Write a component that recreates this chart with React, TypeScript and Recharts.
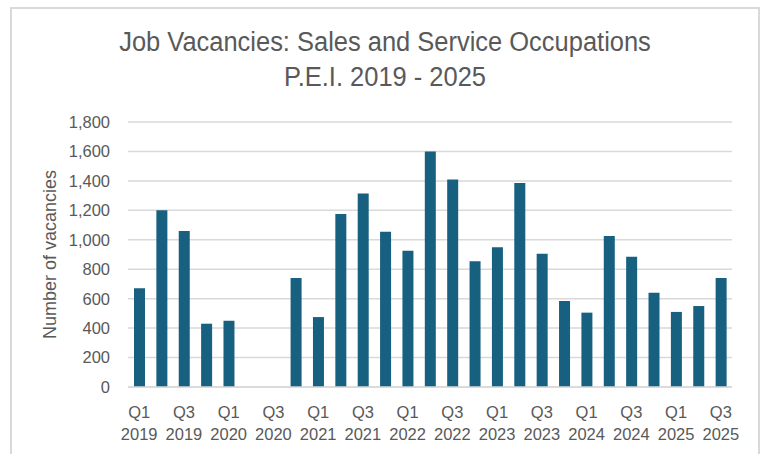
import React from 'react';
import { BarChart, Bar, XAxis, YAxis, CartesianGrid } from 'recharts';

const quarters = [
  'Q1 2019', 'Q2 2019', 'Q3 2019', 'Q4 2019',
  'Q1 2020', 'Q2 2020', 'Q3 2020', 'Q4 2020',
  'Q1 2021', 'Q2 2021', 'Q3 2021', 'Q4 2021',
  'Q1 2022', 'Q2 2022', 'Q3 2022', 'Q4 2022',
  'Q1 2023', 'Q2 2023', 'Q3 2023', 'Q4 2023',
  'Q1 2024', 'Q2 2024', 'Q3 2024', 'Q4 2024',
  'Q1 2025', 'Q2 2025', 'Q3 2025',
];

// Q2 and Q3 2020 were not collected
const vacancies: (number | null)[] = [
  670, 1200, 1060, 430,
  450, null, null, 740,
  475, 1175, 1315, 1055,
  925, 1600, 1410, 855,
  950, 1385, 905, 585,
  505, 1025, 885, 640,
  510, 550, 740,
];

const yTicks = [0, 200, 400, 600, 800, 1000, 1200, 1400, 1600, 1800];

const data = quarters.map((q, i) => ({ quarter: q, vacancies: vacancies[i] }));

const grey = '#595959';
const font = '"Liberation Sans", Arial, sans-serif';

function QuarterTick(props: any) {
  const { x, y, payload } = props;
  const [q, yr] = String(payload.value).split(' ');
  return (
    <text x={x} y={y} textAnchor="middle" fill={grey} fontSize={16.5} fontFamily={font}>
      <tspan x={x} dy={31}>{q}</tspan>
      <tspan x={x} dy={22}>{yr}</tspan>
    </text>
  );
}

export default function App() {
  return (
    <div
      style={{
        position: 'absolute',
        left: 10,
        top: 7,
        width: 746,
        height: 445,
        border: '2px solid #d9d9d9',
        borderBottom: 'none',
        background: '#fff',
      }}
    >
      <div
        style={{
          position: 'absolute',
          left: 0,
          top: 16,
          width: '100%',
          textAlign: 'center',
          fontFamily: font,
          fontSize: 27,
          lineHeight: '35px',
          color: grey,
          transform: 'scaleX(0.943)',
        }}
      >
        <div>Job Vacancies: Sales and Service Occupations</div>
        <div>P.E.I. 2019 - 2025</div>
      </div>
      <div style={{ position: 'absolute', left: 0, top: 0 }}>
        <BarChart
          width={746}
          height={445}
          data={data}
          margin={{ top: 113, right: 26, left: 0, bottom: 17 }}
        >
          <CartesianGrid vertical={false} stroke="#d9d9d9" strokeWidth={1.5} />
          <XAxis
            dataKey="quarter"
            interval={1}
            height={50}
            tickLine={false}
            tickSize={0}
            tickMargin={0}
            axisLine={{ stroke: '#d9d9d9', strokeWidth: 1.5 }}
            tick={<QuarterTick />}
          />
          <YAxis
            width={116}
            domain={[0, 1800]}
            ticks={yTicks}
            axisLine={false}
            tickLine={false}
            tickSize={0}
            tickMargin={18}
            tickFormatter={(v: number) => v.toLocaleString('en-US')}
            tick={{ fill: grey, fontSize: 16.5, fontFamily: font }}
            label={{
              value: 'Number of vacancies',
              angle: -90,
              position: 'insideLeft',
              offset: 38,
              style: { textAnchor: 'middle', fill: grey, fontSize: 18, fontFamily: font },
            }}
          />
          <Bar dataKey="vacancies" fill="#17607f" barSize={11} isAnimationActive={false} />
        </BarChart>
      </div>
    </div>
  );
}
